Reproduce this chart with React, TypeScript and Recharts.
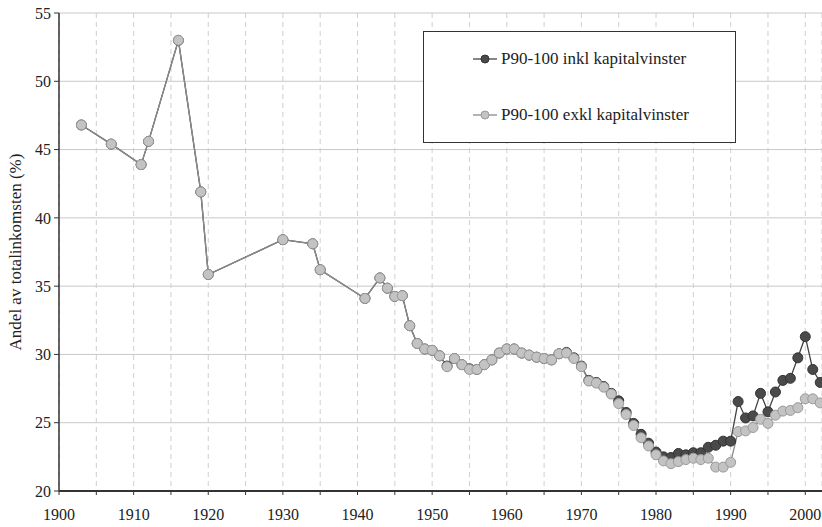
import React from "react";
import { LineChart, Line, XAxis, YAxis, CartesianGrid, Legend } from "recharts";

const years = [
	1903, 1907, 1911, 1912, 1916, 1919, 1920, 1930, 1934, 1935, 1941, 1943, 1944, 1945, 1946, 1947,
	1948, 1949, 1950, 1951, 1952, 1953, 1954, 1955, 1956, 1957, 1958, 1959, 1960, 1961, 1962, 1963,
	1964, 1965, 1966, 1967, 1968, 1969, 1970, 1971, 1972, 1973, 1974, 1975, 1976, 1977, 1978, 1979,
	1980, 1981, 1982, 1983, 1984, 1985, 1986, 1987, 1988, 1989, 1990, 1991, 1992, 1993, 1994, 1995,
	1996, 1997, 1998, 1999, 2000, 2001, 2002,
];

const exklKapital = [
	46.8, 45.4, 43.9, 45.6, 53.0, 41.9, 35.85, 38.4, 38.1, 36.2, 34.1, 35.6, 34.85, 34.25, 34.3, 32.1,
	30.8, 30.4, 30.3, 29.9, 29.1, 29.7, 29.25, 28.9, 28.9, 29.25, 29.6, 30.1, 30.4, 30.4, 30.1, 29.95,
	29.8, 29.7, 29.6, 30.05, 30.1, 29.7, 29.1, 28.05, 27.9, 27.6, 27.1, 26.4, 25.6, 24.8, 23.9, 23.3,
	22.65, 22.2, 22.0, 22.15, 22.3, 22.4, 22.3, 22.4, 21.75, 21.75, 22.1, 24.35, 24.4, 24.65, 25.25, 24.95,
	25.55, 25.85, 25.9, 26.1, 26.75, 26.75, 26.45,
];

const inklKapital = [
	46.8, 45.4, 43.9, 45.6, 53.0, 41.9, 35.85, 38.4, 38.1, 36.2, 34.1, 35.6, 34.85, 34.25, 34.3, 32.1,
	30.8, 30.4, 30.3, 29.9, 29.15, 29.7, 29.25, 28.95, 28.9, 29.25, 29.6, 30.1, 30.4, 30.4, 30.1, 29.95,
	29.8, 29.7, 29.6, 30.05, 30.15, 29.75, 29.15, 28.1, 27.95, 27.65, 27.15, 26.6, 25.75, 24.95, 24.15, 23.5,
	22.85, 22.5, 22.45, 22.75, 22.65, 22.8, 22.8, 23.2, 23.35, 23.65, 23.65, 26.55, 25.35, 25.5, 27.15, 25.8,
	27.25, 28.1, 28.25, 29.75, 31.3, 28.9, 27.95,
];

const xTicks = [
	1900, 1905, 1910, 1915, 1920, 1925, 1930, 1935, 1940, 1945, 1950, 1955, 1960, 1965, 1970, 1975,
	1980, 1985, 1990, 1995, 2000,
];
const yTicks = [20, 25, 30, 35, 40, 45, 50, 55];

const seriesNames = ["P90-100 inkl kapitalvinster", "P90-100 exkl kapitalvinster"];

const data = years.map((year, i) => ({ year, inkl: inklKapital[i], exkl: exklKapital[i] }));

const FONT = "Times New Roman, Liberation Serif, DejaVu Serif, Noto Serif, serif";

function LegendBox() {
	const rows = [
		{ name: seriesNames[0], line: "#444", fill: "#4a4a4a", stroke: "#333" },
		{ name: seriesNames[1], line: "#8a8a8a", fill: "#c3c3c3", stroke: "#9a9a9a" },
	];
	return (
		<div
			style={{
				width: 311,
				height: 110,
				border: "1px solid #333",
				background: "#fff",
				fontFamily: FONT,
				fontSize: 17,
				color: "#222",
				position: "relative",
			}}
		>
			{rows.map((r, i) => (
				<div key={r.name} style={{ position: "absolute", left: 48, top: 17 + i * 56, display: "flex", alignItems: "center" }}>
					<svg width={26} height={12} style={{ marginRight: 3 }}>
						<line x1={1} y1={6} x2={25} y2={6} stroke={r.line} strokeWidth={1.3} />
						<circle cx={13} cy={6} r={4} fill={r.fill} stroke={r.stroke} strokeWidth={1} />
					</svg>
					<span>{r.name}</span>
				</div>
			))}
		</div>
	);
}

function YLabel(props: any) {
	const vb = props.viewBox || { x: 0, y: 0, width: 0, height: 0 };
	const cx = 15;
	const cy = vb.y + vb.height / 2;
	return (
		<text
			x={cx}
			y={cy}
			transform={`rotate(-90 ${cx} ${cy})`}
			textAnchor="middle"
			dominantBaseline="central"
			fontFamily={FONT}
			fontSize={17}
			fill="#222"
		>
			Andel av totalinkomsten (%)
		</text>
	);
}

export default function App() {
	return (
		<div style={{ position: "absolute", left: 0, top: 0, width: 822, height: 527, background: "#fff" }}>
			<LineChart width={822} height={527} data={data} margin={{ top: 13, right: 0, bottom: 0, left: 0 }}>
				<CartesianGrid horizontal vertical={false} stroke="#c8c8c8" />
				<CartesianGrid horizontal={false} vertical stroke="#cfcfcf" strokeDasharray="5 4" />
				<XAxis
					dataKey="year"
					type="number"
					domain={[1900, 2002.24]}
					allowDataOverflow
					ticks={xTicks}
					interval={0}
					tickFormatter={(v: number) => (v % 10 === 0 ? String(v) : "")}
					height={36}
					tickSize={4}
					tickMargin={14}
					axisLine={{ stroke: "#333", strokeWidth: 2 }}
					tickLine={{ stroke: "#333" }}
					tick={{ fontFamily: FONT, fontSize: 16, fill: "#222" }}
				/>
				<YAxis
					type="number"
					domain={[20, 55]}
					ticks={yTicks}
					interval={0}
					width={59}
					tickSize={5}
					tickMargin={3}
					axisLine={{ stroke: "#333", strokeWidth: 1.5 }}
					tickLine={{ stroke: "#333" }}
					tick={{ fontFamily: FONT, fontSize: 16, fill: "#222" }}
					label={{ content: YLabel }}
				/>
				<Legend
					layout="vertical"
					align="center"
					verticalAlign="middle"
					wrapperStyle={{ left: 423, top: 31, width: 313, height: 112 }}
					content={() => <LegendBox />}
				/>
				<Line
					type="linear"
					dataKey="inkl"
					name={seriesNames[0]}
					stroke="#444"
					strokeWidth={1.3}
					dot={{ r: 5, fill: "#4a4a4a", stroke: "#333", strokeWidth: 1 }}
					isAnimationActive={false}
				/>
				<Line
					type="linear"
					dataKey="exkl"
					name={seriesNames[1]}
					stroke="#8a8a8a"
					strokeWidth={1.3}
					dot={{ r: 5, fill: "#c3c3c3", stroke: "#9a9a9a", strokeWidth: 1 }}
					isAnimationActive={false}
				/>
			</LineChart>
		</div>
	);
}
